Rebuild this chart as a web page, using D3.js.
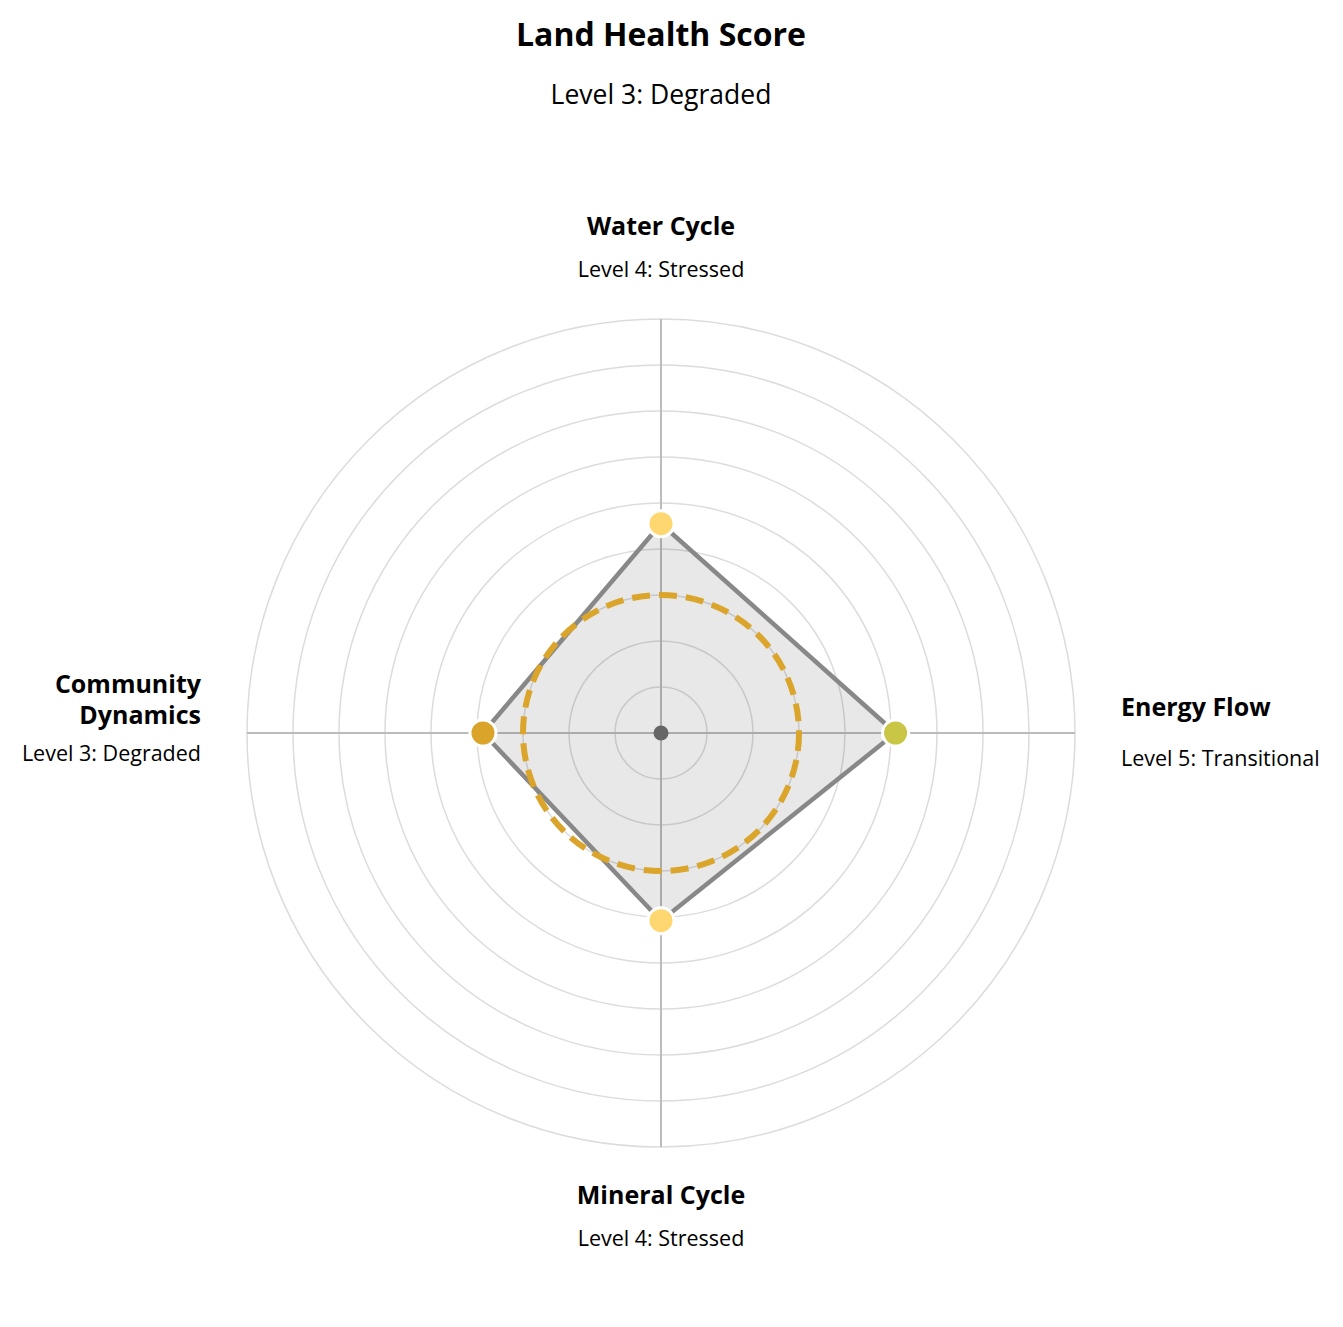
<!DOCTYPE html>
<html>
<head>
<meta charset="utf-8">
<script src="https://cdn.jsdelivr.net/npm/d3@7"></script>
<style>
  body { margin: 0; background: #fff; }
  text { font-family: "Open Sans", Lato, sans-serif; fill: #000; }
</style>
</head>
<body>
<div id="chart"></div>
<script>
// radar of land health attributes, overall score as dashed ring

let axes = ["Water Cycle", "Energy Flow", "Mineral Cycle", "Community Dynamics"]
let scores = [4.55, 5.1, 4.08, 3.87]
let levelLabels = ["Level 4: Stressed", "Level 5: Transitional", "Level 4: Stressed", "Level 3: Degraded"]
let pointColors = ["#FFD770", "#C9C646", "#FFD770", "#DAA42A"]
let overallScore = 3
let overallLabel = "Level 3: Degraded"
let ringLevels = [1, 2, 3, 4, 5, 6, 7, 8, 9]

let width = 1343
let height = 1327
let cx = 661, cy = 733

let svg = d3.select('#chart')
    .append('svg')
    .attr("width", width)
    .attr("height", height)

let g = svg.append("g")
    .attr("transform", `translate(${cx},${cy})`)

let rScale = d3.scaleLinear()
    .domain([0, 9])
    .range([0, 414])

let angle = (i) => i * 2 * Math.PI / axes.length

// grid rings
g.selectAll('.ring')
    .data(ringLevels)
    .enter()
    .append('circle')
    .attr('class', 'ring')
    .attr('r', d => rScale(d))
    .attr('fill', 'none')
    .attr('stroke', '#dcdcdc')
    .attr('stroke-width', 1.5)

// axis lines
g.selectAll('.axis-line')
    .data(axes)
    .enter()
    .append('line')
    .attr('x1', 0).attr('y1', 0)
    .attr('x2', (d, i) => rScale(9) * Math.sin(angle(i)))
    .attr('y2', (d, i) => -rScale(9) * Math.cos(angle(i)))
    .attr('stroke', '#bcbcbc')
    .attr('stroke-width', 2)

// score polygon
let line = d3.lineRadial()
    .angle((d, i) => angle(i))
    .radius(d => rScale(d))
    .curve(d3.curveLinearClosed)

g.append('path')
    .datum(scores)
    .attr('d', line)
    .attr('fill', 'rgba(0,0,0,0.09)')
    .attr('stroke', '#888888')
    .attr('stroke-width', 4.5)
    .attr('stroke-linejoin', 'miter')

// overall score ring
g.append('circle')
    .attr('r', rScale(overallScore))
    .attr('fill', 'none')
    .attr('stroke', '#DAA52A')
    .attr('stroke-width', 6)
    .attr('stroke-dasharray', '18 9')

// centre dot
g.append('circle')
    .attr('r', 7.5)
    .attr('fill', '#666666')

// points
g.selectAll('.pt')
    .data(scores)
    .enter()
    .append('circle')
    .attr('class', 'pt')
    .attr('cx', (d, i) => rScale(d) * Math.sin(angle(i)))
    .attr('cy', (d, i) => -rScale(d) * Math.cos(angle(i)))
    .attr('r', 13)
    .attr('fill', (d, i) => pointColors[i])
    .attr('stroke', '#fff')
    .attr('stroke-width', 3)

// title
svg.append('text')
    .attr('x', cx).attr('y', 46)
    .attr('text-anchor', 'middle')
    .style('font-size', '32px')
    .style('font-weight', 'bold')
    .text("Land Health Score")

svg.append('text')
    .attr('x', cx).attr('y', 104)
    .attr('text-anchor', 'middle')
    .style('font-size', '26.5px')
    .text(overallLabel)

// axis labels
let labelPos = [
    {x: cx, y: 235, anchor: 'middle', sub: 277, lines: ["Water Cycle"]},
    {x: 1121, y: 716, anchor: 'start', sub: 766, lines: ["Energy Flow"]},
    {x: cx, y: 1204, anchor: 'middle', sub: 1246, lines: ["Mineral Cycle"]},
    {x: 201, y: 693, anchor: 'end', sub: 761, lines: ["Community", "Dynamics"]}
]

labelPos.forEach((p, i) => {
    let t = svg.append('text')
        .attr('x', p.x).attr('y', p.y)
        .attr('text-anchor', p.anchor)
        .style('font-size', '25px')
        .style('font-weight', 'bold')
    p.lines.forEach((l, j) => {
        t.append('tspan')
            .attr('x', p.x)
            .attr('dy', j == 0 ? 0 : 31)
            .text(l)
    })
    svg.append('text')
        .attr('x', p.x).attr('y', p.sub)
        .attr('text-anchor', p.anchor)
        .style('font-size', '21.5px')
        .text(levelLabels[i])
})
</script>
</body>
</html>
